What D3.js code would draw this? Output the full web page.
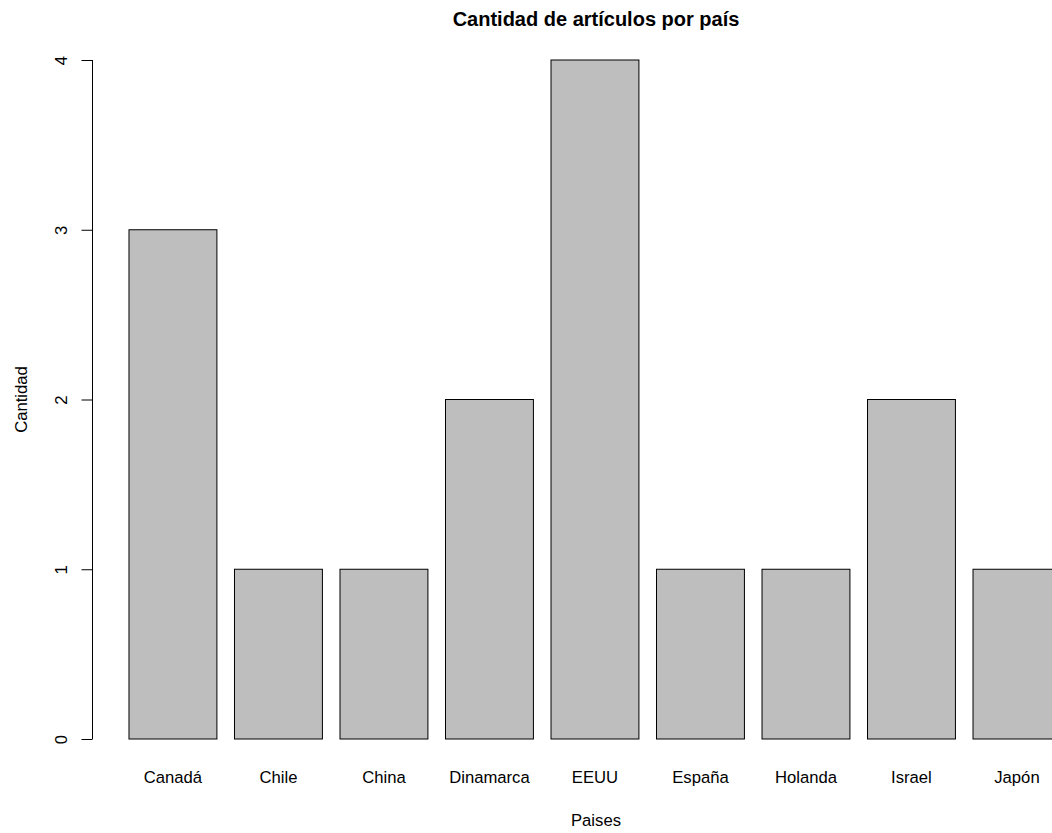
<!DOCTYPE html>
<html><head><meta charset="utf-8">
<script src="https://cdn.jsdelivr.net/npm/d3@7"></script>
<style>body{margin:0;background:#fff}svg{display:block}text{font-family:"Liberation Sans",Arial,sans-serif;fill:#000}</style>
</head><body>
<script>
const categories = ["Canadá","Chile","China","Dinamarca","EEUU","España","Holanda","Israel","Japón"];
const values = [3,1,1,2,4,1,1,2,1];
const yTicks = [0,1,2,3,4];
const title = "Cantidad de artículos por país";
const xTitle = "Paises";
const yTitle = "Cantidad";

const W = 1052, H = 833;
const svg = d3.select("body").append("svg").attr("width", W).attr("height", H);

// R barplot geometry: width 1, space 0.2
const x = d3.scaleLinear().domain([0, 1]).range([111.4, 111.4 + 87.92]);
const y = d3.scaleLinear().domain([0, 4]).range([739, 60]);
const barL = i => 0.2 + i * 1.2;

svg.selectAll("rect.bar").data(values).join("rect")
  .attr("class","bar")
  .attr("x", (d,i) => x(barL(i)))
  .attr("width", x(1) - x(0))
  .attr("y", d => y(d))
  .attr("height", d => y(0) - y(d))
  .attr("fill", "#bebebe").attr("stroke", "#000").attr("stroke-width", 1);

svg.selectAll("text.cat").data(categories).join("text")
  .attr("class","cat")
  .attr("x", (d,i) => x(barL(i) + 0.5))
  .attr("y", 783)
  .attr("text-anchor","middle")
  .attr("font-size", "16.67px")
  .text(d => d);

const yAxis = d3.axisLeft(y).tickValues(yTicks).tickFormat(d3.format("d")).tickSize(11).tickPadding(14);
const gy = svg.append("g").attr("transform","translate(92.5,0)").call(yAxis);
gy.select(".domain").attr("stroke","#000").attr("d", `M0,${y(0)}V${y(4)}`);
gy.selectAll(".tick line").attr("stroke","#000").attr("x2",-11);
gy.selectAll(".tick text")
  .attr("font-size","16.67px").attr("font-family",'"Liberation Sans",Arial,sans-serif')
  .attr("fill","#000")
  .attr("x", null).attr("dy", null)
  .attr("text-anchor","middle")
  .attr("transform", "translate(-25.5,0) rotate(-90)");

svg.append("text").attr("x", 596).attr("y", 26).attr("text-anchor","middle")
  .attr("font-size","20px").attr("font-weight","bold").text(title);
svg.append("text").attr("x", 596).attr("y", 826).attr("text-anchor","middle")
  .attr("font-size","16.67px").text(xTitle);
svg.append("text").attr("transform", `translate(27,${(y(0)+y(4))/2}) rotate(-90)`)
  .attr("text-anchor","middle").attr("font-size","16.67px").text(yTitle);
</script>
</body></html>
